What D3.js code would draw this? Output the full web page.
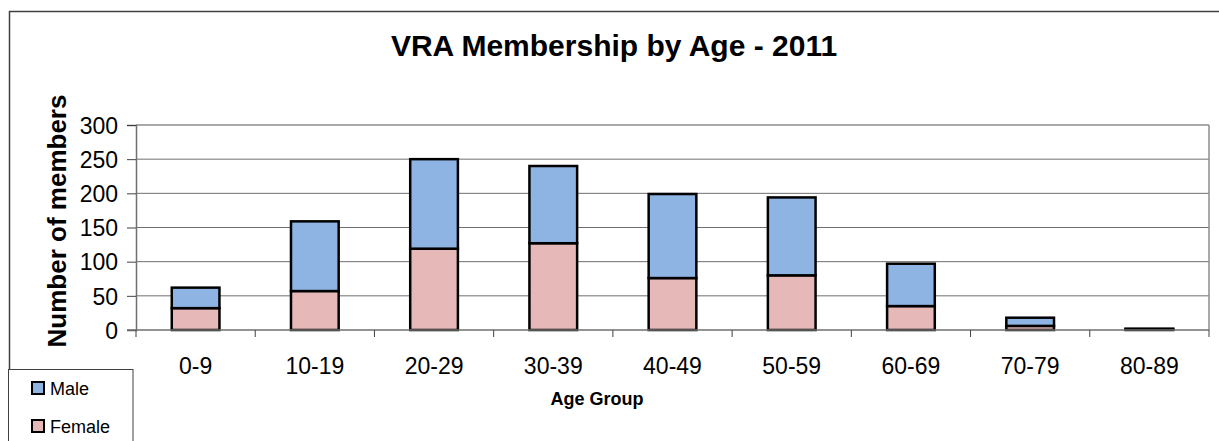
<!DOCTYPE html>
<html>
<head>
<meta charset="utf-8">
<script src="https://cdn.jsdelivr.net/npm/d3@7"></script>
<style>
  body { margin: 0; background: #fff; }
  svg { font-family: "Liberation Sans", Arial, sans-serif; }
</style>
</head>
<body>
<svg id="chart"></svg>
<script>
const width = 1219;
const height = 441;

// data
const ageGroups = ['0-9', '10-19', '20-29', '30-39', '40-49', '50-59', '60-69', '70-79', '80-89'];
const female = [32, 57, 119, 127, 76, 80, 35, 6, 1];
const male = [30, 102, 131, 113, 123, 114, 62, 12, 1];
const yTicks = [0, 50, 100, 150, 200, 250, 300];

const seriesNames = ['Female', 'Male'];
const seriesColors = { Female: '#e6b8b7', Male: '#8eb4e3' };

const plot = { left: 136, right: 1209, top: 125, bottom: 330 };

const svg = d3.select('#chart')
  .attr('width', width)
  .attr('height', height);

// outer chart frame
svg.append('rect')
  .attr('x', 9.5).attr('y', 11.5)
  .attr('width', 1240).attr('height', 500)
  .style('fill', 'white')
  .style('stroke', '#404040')
  .style('stroke-width', 1.5);

const x = d3.scaleBand()
  .domain(ageGroups)
  .range([plot.left, plot.right])
  .paddingInner(0.6)
  .paddingOuter(0.3);

const y = d3.scaleLinear()
  .domain([0, 300])
  .range([plot.bottom, plot.top]);

// gridlines
svg.append('g')
  .selectAll('line')
  .data(yTicks.slice(1))
  .join('line')
  .attr('x1', plot.left).attr('x2', plot.right)
  .attr('y1', d => y(d)).attr('y2', d => y(d))
  .style('stroke', d => d === 300 ? '#8c8c8c' : '#6f6f6f')
  .style('stroke-width', d => d === 300 ? 1.5 : 1);

// plot area border on the right
svg.append('line')
  .attr('x1', plot.right).attr('x2', plot.right)
  .attr('y1', plot.top).attr('y2', plot.bottom)
  .style('stroke', '#8c8c8c')
  .style('stroke-width', 1.5);

// stacked bars
const rows = ageGroups.map((g, i) => ({ group: g, Female: female[i], Male: male[i] }));
const stacked = d3.stack().keys(seriesNames)(rows);

svg.append('g')
  .selectAll('g')
  .data(stacked)
  .join('g')
  .style('fill', d => seriesColors[d.key])
  .selectAll('rect')
  .data(d => d)
  .join('rect')
  .attr('x', d => x(d.data.group))
  .attr('y', d => y(d[1]))
  .attr('width', x.bandwidth())
  .attr('height', d => y(d[0]) - y(d[1]))
  .style('stroke', '#000')
  .style('stroke-width', 2.5);

// y axis
const yAxis = svg.append('g')
  .attr('transform', `translate(${plot.left},0)`)
  .call(d3.axisLeft(y).tickValues(yTicks).tickSize(9).tickPadding(9));
yAxis.select('.domain').style('stroke', '#6f6f6f').style('stroke-width', 1.5);
yAxis.selectAll('.tick line').style('stroke', '#404040');
yAxis.selectAll('text')
  .attr('dy', '0.36em')
  .style('font-size', '23px')
  .style('fill', '#000');

// x axis (ticks at category boundaries)
const xAxis = svg.append('g')
  .attr('transform', `translate(0,${plot.bottom})`);
xAxis.append('line')
  .attr('x1', plot.left - 9).attr('x2', plot.right)
  .style('stroke', '#6f6f6f')
  .style('stroke-width', 1.5);
xAxis.selectAll('.bound')
  .data(d3.range(ageGroups.length + 1))
  .join('line')
  .attr('class', 'bound')
  .attr('x1', i => plot.left + i * (plot.right - plot.left) / ageGroups.length)
  .attr('x2', i => plot.left + i * (plot.right - plot.left) / ageGroups.length)
  .attr('y1', 0).attr('y2', 7)
  .style('stroke', '#404040');
xAxis.selectAll('.lbl')
  .data(ageGroups)
  .join('text')
  .attr('class', 'lbl')
  .attr('x', d => x(d) + x.bandwidth() / 2)
  .attr('y', 44)
  .attr('text-anchor', 'middle')
  .style('font-size', '23px')
  .text(d => d);

// titles
svg.append('text')
  .attr('x', 614).attr('y', 56)
  .attr('text-anchor', 'middle')
  .style('font-size', '30px')
  .style('font-weight', 'bold')
  .text('VRA Membership by Age - 2011');

svg.append('text')
  .attr('transform', 'translate(66,221) rotate(-90)')
  .attr('text-anchor', 'middle')
  .style('font-size', '26px')
  .style('font-weight', 'bold')
  .text('Number of members');

svg.append('text')
  .attr('x', 597).attr('y', 405)
  .attr('text-anchor', 'middle')
  .style('font-size', '18px')
  .style('font-weight', 'bold')
  .text('Age Group');

// legend
const legend = svg.append('g');
legend.append('rect')
  .attr('x', 8.5).attr('y', 369.5)
  .attr('width', 124.5).attr('height', 100)
  .style('fill', 'white')
  .style('stroke', '#404040')
  .style('stroke-width', 1);
const legendItems = legend.selectAll('g')
  .data(['Male', 'Female'])
  .join('g')
  .attr('transform', (d, i) => `translate(32,${382 + i * 38})`);
legendItems.append('rect')
  .attr('width', 12).attr('height', 12)
  .style('fill', d => seriesColors[d])
  .style('stroke', '#000')
  .style('stroke-width', 2);
legendItems.append('text')
  .attr('x', 18).attr('y', 13)
  .style('font-size', '18px')
  .text(d => d);
</script>
</body>
</html>
